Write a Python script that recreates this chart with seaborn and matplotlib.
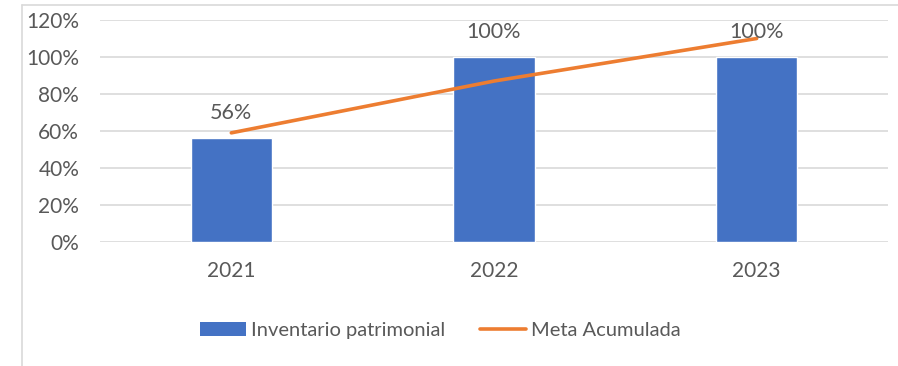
import matplotlib
matplotlib.use("Agg")
import matplotlib.pyplot as plt
import seaborn as sns
from matplotlib.patches import Patch
from matplotlib.lines import Line2D
from matplotlib.ticker import FuncFormatter, MultipleLocator

# Data
years = ["2021", "2022", "2023"]
inventario = [56, 100, 100]          # Inventario patrimonial (%)
meta = [59, 87, 110]                 # Meta Acumulada (%)
series_names = ["Inventario patrimonial", "Meta Acumulada"]

BLUE = "#4472C4"
ORANGE = "#ED7D31"
TEXT = "#595959"
GRID = "#D9D9D9"

sns.set_theme(style="white")
plt.rcParams["font.family"] = ["Lato", "DejaVu Sans"]

fig = plt.figure(figsize=(8.98, 3.66), dpi=100)
ax = fig.add_axes([100 / 898, 1 - 242 / 366, 788 / 898, 222 / 366])

sns.barplot(x=years, y=inventario, color=BLUE, width=0.31, saturation=1,
            ax=ax, zorder=2)
sns.pointplot(x=years, y=meta, color=ORANGE, markers="", linestyles="-",
              errorbar=None, linewidth=2.6, ax=ax, zorder=3)

# Value labels over the bars
for i, v in enumerate(inventario):
    ax.annotate(f"{v}%", xy=(i, v), xytext=(0, 18), textcoords="offset points",
                ha="center", va="center", fontsize=15.5, color=TEXT)

ax.set_xlim(-0.5, 2.5)
ax.set_ylim(0, 120)
ax.yaxis.set_major_locator(MultipleLocator(20))
ax.yaxis.set_major_formatter(FuncFormatter(lambda v, _: f"{v:.0f}%"))
ax.grid(axis="y", color=GRID, linewidth=1.2, zorder=0)
ax.set_axisbelow(True)
for s in ax.spines.values():
    s.set_visible(False)
ax.tick_params(axis="both", length=0, labelsize=15, colors=TEXT)
ax.tick_params(axis="y", pad=15)
ax.tick_params(axis="x", pad=14)
ax.set_xlabel("")
ax.set_ylabel("")

# Legend below the plot
handles = [Patch(facecolor=BLUE, edgecolor="none"),
           Line2D([], [], color=ORANGE, linewidth=2.6)]
fig.legend(handles, series_names, loc="center", bbox_to_anchor=(0.4905, 0.098),
           ncol=2, frameon=False, fontsize=14.5, labelcolor=TEXT,
           handlelength=2.3, handleheight=0.7, handletextpad=0.25,
           columnspacing=1.7)

# Chart-area border (top and left edges)
fig.add_artist(Line2D([22 / 898, 22 / 898], [0, 1 - 5 / 366],
                      transform=fig.transFigure, color=GRID, linewidth=1.2))
fig.add_artist(Line2D([22 / 898, 1], [1 - 5 / 366, 1 - 5 / 366],
                      transform=fig.transFigure, color=GRID, linewidth=1.2))

fig.savefig("out.png", dpi=100)
